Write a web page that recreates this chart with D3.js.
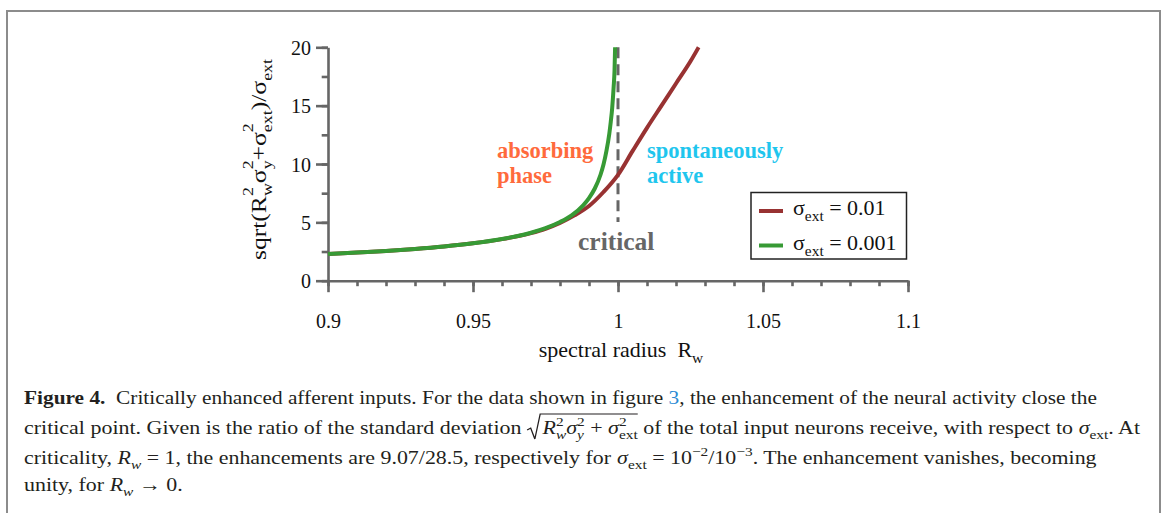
<!DOCTYPE html>
<html lang="en">
<head>
<meta charset="UTF-8">
<title>Critically enhanced afferent inputs</title>
<script src="https://d3js.org/d3.v7.min.js"></script>
<style>
  body { margin: 0; background: #fff; }
  svg { display: block; font-family: "Liberation Serif", "Times New Roman", serif; }
  svg text { white-space: pre; }
  .axis path, .axis line { stroke: #666; stroke-width: 2.6; }
  .axis text { font-size: 20px; fill: #111; font-family: "Liberation Serif", serif; }
</style>
</head>
<body>
<svg width="1165" height="513"></svg>
<script>
// data
const xTicks = [0.9, 0.95, 1, 1.05, 1.1];
const xTickLabels = ["0.9", "0.95", "1", "1.05", "1.1"];
const yTicks = [0, 5, 10, 15, 20];
const greenR = [0.9, 0.91, 0.92, 0.93, 0.94, 0.95, 0.96, 0.965, 0.97, 0.975, 0.98, 0.984, 0.988,
                0.99, 0.992, 0.994, 0.995, 0.996, 0.997, 0.9975, 0.998, 0.9985, 0.9988, 0.999];
const greenV = [2.29, 2.42, 2.55, 2.72, 2.93, 3.2, 3.57, 3.81, 4.11, 4.5, 5.03, 5.6, 6.46,
                7.08, 7.9, 9.1, 9.95, 11.1, 12.6, 13.6, 14.8, 16.6, 18.0, 20.0];
const redR = [0.9, 0.91, 0.92, 0.93, 0.94, 0.95, 0.96, 0.97, 0.975, 0.98, 0.985, 0.99, 0.995,
              1.0, 1.005, 1.01, 1.015, 1.02, 1.025, 1.0278];
const redV = [2.29, 2.42, 2.55, 2.72, 2.93, 3.2, 3.56, 4.08, 4.45, 4.95, 5.6, 6.4, 7.6,
              9.07, 11.1, 13.1, 15.0, 16.9, 18.8, 20.0];
const criticalR = 1.0;
const seriesNames = ["0.01", "0.001"];
const seriesColors = ["#983232", "#379a35"];

const svg = d3.select("svg");
const x = d3.scaleLinear().domain([0.9, 1.1]).range([328, 908]);
const y = d3.scaleLinear().domain([0, 20]).range([280.7, 47.3]);

// frame around the figure
svg.append("path").attr("d", "M7,513 V11 H1160 V513")
   .attr("fill", "none").attr("stroke", "#8c8c8c").attr("stroke-width", 2);

// math-ish text runs: segments placed one after another
function mathRun(parent, segs, size, color, supRaise = 0.42) {
  const g = parent.append("g");
  let cx = 0, subStart = null;
  const marks = {};
  segs.forEach(s => {
    if (s.mark) { marks[s.mark] = cx; cx += (s.w || 0); return; }
    const small = s.sub || s.sup;
    const fs = small ? size * 0.7 : size;
    const px = (s.sup && s.stack && subStart != null) ? subStart : cx;
    const t = g.append("text")
      .attr("x", px)
      .attr("y", s.sub ? size * 0.28 : s.sup ? -size * supRaise : 0)
      .attr("font-size", fs)
      .attr("font-style", s.i ? "italic" : null)
      .attr("font-weight", s.b ? "bold" : null)
      .attr("fill", s.c || color)
      .text(s.t);
    const w = t.node().getComputedTextLength();
    if (s.sub) subStart = px; else if (!s.sup) subStart = null;
    cx = Math.max(cx, px + w);
  });
  return { g, width: cx, marks };
}

// axes
svg.append("g").attr("class", "axis")
  .attr("transform", `translate(0,${y(0)})`)
  .call(d3.axisBottom(x).tickValues(d3.range(0.9, 1.1001, 0.01)).tickSize(5.5).tickSizeOuter(0).tickFormat(""));
svg.append("g").attr("class", "axis")
  .attr("transform", `translate(0,${y(0)})`)
  .call(d3.axisBottom(x).tickValues(xTicks).tickSize(11.5).tickSizeOuter(0)
        .tickFormat((d, i) => xTickLabels[i]).tickPadding(22))
  .call(g => g.select(".domain").remove());

svg.append("g").attr("class", "axis")
  .attr("transform", `translate(${x(0.9)},0)`)
  .call(d3.axisLeft(y).tickValues(d3.range(0, 20.01, 2.5)).tickSize(6.3).tickSizeOuter(0).tickFormat(""));
svg.append("g").attr("class", "axis")
  .attr("transform", `translate(${x(0.9)},0)`)
  .call(d3.axisLeft(y).tickValues(yTicks).tickSize(12).tickSizeOuter(0).tickPadding(5))
  .call(g => g.select(".domain").remove())
  .selectAll("text").attr("dy", "0.35em");

// critical line
svg.append("line")
  .attr("x1", x(criticalR)).attr("x2", x(criticalR))
  .attr("y1", y(20)).attr("y2", 222)
  .attr("stroke", "#666").attr("stroke-width", 3).attr("stroke-dasharray", "11,6");

// curves
const line = d3.line().x(d => x(d[0])).y(d => y(d[1])).curve(d3.curveMonotoneX);
svg.append("path").datum(d3.zip(redR, redV)).attr("d", line)
   .attr("fill", "none").attr("stroke", seriesColors[0]).attr("stroke-width", 4);
svg.append("path").datum(d3.zip(greenR, greenV)).attr("d", line)
   .attr("fill", "none").attr("stroke", seriesColors[1]).attr("stroke-width", 4);

// annotations
const ann = [
  ["absorbing", 497, 158, "#ff6a3c", 22.5],
  ["phase", 497, 183, "#ff6a3c", 22.5],
  ["spontaneously", 647, 158, "#1fc6ee", 22.5],
  ["active", 647, 183, "#1fc6ee", 22.5],
  ["critical", 578, 250, "#666", 25.5]
];
ann.forEach(a => svg.append("text").attr("x", a[1]).attr("y", a[2]).attr("fill", a[3])
  .attr("font-size", a[4]).attr("font-weight", "bold").text(a[0]));

// legend
svg.append("rect").attr("x", 751).attr("y", 192.5).attr("width", 155.5).attr("height", 66.5)
   .attr("fill", "#fff").attr("stroke", "#222").attr("stroke-width", 1.5);
seriesNames.forEach((n, i) => {
  const ly = 211 + i * 34.5;
  svg.append("line").attr("x1", 759).attr("x2", 783).attr("y1", ly).attr("y2", ly)
     .attr("stroke", seriesColors[i]).attr("stroke-width", 4);
  const r = mathRun(svg, [{ t: "σ" }, { t: "ext", sub: true }, { t: " = " + n }], 22, "#111");
  r.g.attr("transform", `translate(793,${ly + 4})`);
});

// x title
{
  const r = mathRun(svg, [{ t: "spectral radius  R" }, { t: "w", sub: true }], 22, "#111");
  r.g.attr("transform", `translate(${621 - r.width / 2},357)`);
}
// y title
{
  const outer = svg.append("g").attr("transform", "translate(266,159.5) rotate(-90)");
  const r = mathRun(outer, [
    { t: "sqrt(R" }, { t: "w", sub: true }, { t: "2", sup: true, stack: true },
    { t: "σ" }, { t: "y", sub: true }, { t: "2", sup: true, stack: true },
    { t: "+σ" }, { t: "ext", sub: true }, { t: "2", sup: true, stack: true },
    { t: ")/σ" }, { t: "ext", sub: true }
  ], 22, "#111", 0.6);
  const k = 201 / r.width;
  r.g.attr("transform", `scale(${k},1) translate(${-r.width / 2},0)`);
}

// caption
const capX = 24, capSize = 18.5, capColor = "#231f20";
const capLines = [
  { y: 404, end: 1097, segs: [
    { t: "Figure 4.", b: true }, { t: "  Critically enhanced afferent inputs. For the data shown in figure " },
    { t: "3", c: "#2a8ad4" }, { t: ", the enhancement of the neural activity close the" }] },
  { y: 434, end: 1140, segs: [
    { t: "critical point. Given is the ratio of the standard deviation " }, { mark: "rad", w: 13 },
    { t: "R", i: true }, { t: "w", sub: true, i: true }, { t: "2", sup: true, stack: true },
    { t: "σ", i: true }, { t: "y", sub: true, i: true }, { t: "2", sup: true, stack: true },
    { t: " + " }, { t: "σ", i: true }, { t: "ext", sub: true }, { t: "2", sup: true, stack: true },
    { mark: "radEnd", w: 0 },
    { t: " of the total input neurons receive, with respect to " }, { t: "σ", i: true }, { t: "ext", sub: true },
    { t: ". At" }] },
  { y: 464, end: 1097, segs: [
    { t: "criticality, " }, { t: "R", i: true }, { t: "w", sub: true, i: true },
    { t: " = 1, the enhancements are 9.07/28.5, respectively for " }, { t: "σ", i: true }, { t: "ext", sub: true },
    { t: " = 10" }, { t: "−2", sup: true }, { t: "/10" }, { t: "−3", sup: true },
    { t: ". The enhancement vanishes, becoming" }] },
  { y: 491, end: null, segs: [
    { t: "unity, for " }, { t: "R", i: true }, { t: "w", sub: true, i: true }, { t: " → 0." }] }
];
let lastK = 1;
capLines.forEach(L => {
  const r = mathRun(svg, L.segs, capSize, capColor);
  if (r.marks.rad != null) {
    const a = r.marks.rad, b = r.marks.radEnd;
    r.g.append("path")
      .attr("d", `M${a},-4 L${a + 3},-6 L${a + 6.5},5 L${a + 11},-20 H${b}`)
      .attr("fill", "none").attr("stroke", capColor).attr("stroke-width", 1.1);
  }
  const k = L.end ? (L.end - capX) / r.width : lastK;
  lastK = k;
  r.g.attr("transform", `translate(${capX},${L.y}) scale(${k},1)`);
});
</script>
</body>
</html>
